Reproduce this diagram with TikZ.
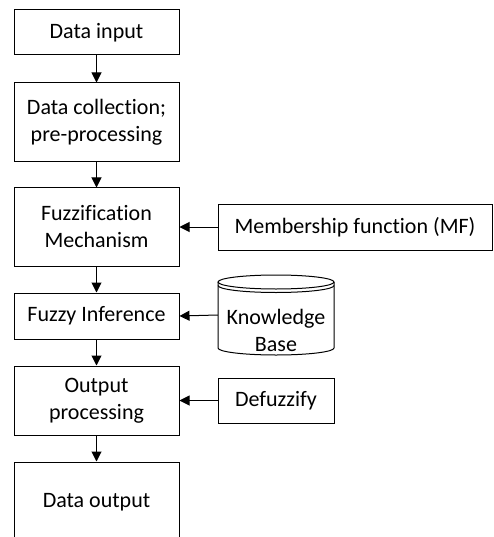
\documentclass[tikz,border=0pt]{standalone}
\usepackage{fontspec}
\setmainfont{Carlito}[Ligatures={NoCommon,NoRare}, RawFeature={-liga;-dlig;-clig}]
\usetikzlibrary{arrows.meta}
\begin{document}
\begin{tikzpicture}[x=1pt,y=-1pt,
  every node/.style={font=\fontsize{22}{27}\selectfont, align=center, inner sep=0pt},
  stepbox/.style={draw, line width=1pt, minimum width=165pt},
  sidebox/.style={draw, line width=1pt},
  arr/.style={line width=1pt, -{Triangle[length=10pt,width=10pt]}},
  cyl/.style={line width=1pt}]
\useasboundingbox (0,0) rectangle (493,537);
\clip (0,0) rectangle (493,537);
% main column
\node[stepbox, minimum height=45pt] (in) at (96.5,32.5) {Data input};
\node[stepbox, minimum height=79pt] (coll) at (96.5,122.5) {Data collection;\\pre-processing};
\node[stepbox, minimum height=78pt] (fuzz) at (96.5,227) {Fuzzification\\Mechanism};
\node[stepbox, minimum height=46pt] (inf) at (96.5,316) {Fuzzy Inference};
\node[stepbox, minimum height=69pt] (outp) at (96.5,400.5) {Output\\processing};
\node[stepbox, minimum height=80pt] (dout) at (96.5,502) {Data output};
% side inputs
\node[sidebox, minimum width=274pt, minimum height=46pt] (mf) at (355,227) {Membership function (MF)};
\node[minimum width=116pt, minimum height=80pt] (kb) at (276,315) {};
\node (kbt) at (276,330) {Knowledge\\Base};
\node[sidebox, minimum width=116pt, minimum height=45pt] (defz) at (276,400.5) {Defuzzify};
% cylinder
\draw[cyl] (276,282) ellipse [x radius=58, y radius=7];
\draw[cyl] (218,285.5) arc[start angle=180, end angle=0, x radius=58, y radius=7];
\draw[cyl] (218,282) -- (218,348) arc[start angle=180, end angle=0, x radius=58, y radius=7] -- (334,282);
% connectors
\draw[arr] (in) -- (coll);
\draw[arr] (coll) -- (fuzz);
\draw[arr] (fuzz) -- (inf);
\draw[arr] (inf) -- (outp);
\draw[arr] (outp) -- (dout);
\draw[arr] (mf) -- (fuzz);
\draw[arr] (kb.west) -- (inf.east);
\draw[arr] (defz) -- (outp);
\end{tikzpicture}
\end{document}
